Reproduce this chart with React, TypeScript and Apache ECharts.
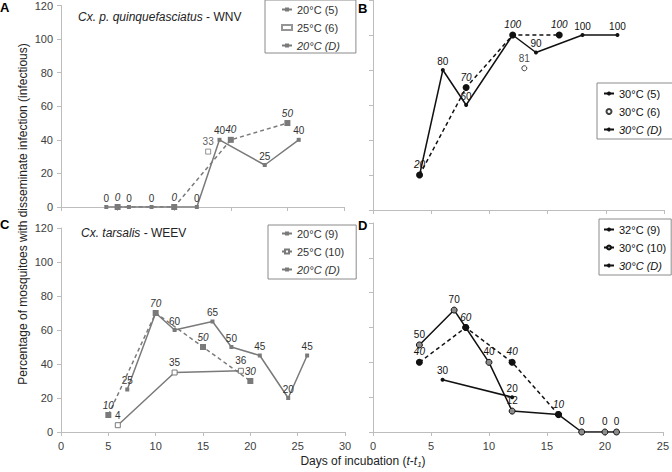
import React, { useEffect, useRef } from "react";
import * as echarts from "echarts";

// ---- data (day, percentage) ----
const aSolid20_5 = [[4, 0], [6, 0], [8, 0], [12, 0], [14, 40], [18, 25], [21, 40]];
const aOpen25_6 = [[13, 33]];
const aDash20_D = [[5, 0], [10, 0], [15, 40], [20, 50]];

const bSolid30_5 = [[4, 20], [6, 80], [8, 60], [12, 100], [14, 90], [18, 100], [21, 100]];
const bOpen30_6 = [[13, 81]];
const bDash30_D = [[4, 20], [8, 70], [12, 100], [16, 100]];

const cSolid20_9 = [[7, 25], [10, 70], [12, 60], [16, 65], [18, 50], [21, 45], [24, 20], [26, 45]];
const cOpen25_10 = [[6, 4], [12, 35], [19, 36]];
const cDash20_D = [[5, 10], [10, 70], [15, 50], [20, 30]];

const dSolid32_9 = [[6, 30], [12, 20]];
const dGray30_10 = [[4, 50], [7, 70], [8, 60], [10, 40], [12, 12], [16, 10], [18, 0], [20, 0], [21, 0]];
const dDash30_D = [[4, 40], [8, 60], [12, 40], [16, 10]];

const yTicks = [0, 20, 40, 60, 80, 100, 120];
const xMaxAB = 25;
const xMaxC = 30;
const xMaxD = 25;

const legendA = ["20°C (5)", "25°C (6)", "20°C (D)"];
const legendB = ["30°C (5)", "30°C (6)", "30°C (D)"];
const legendC = ["20°C (9)", "25°C (10)", "20°C (D)"];
const legendD = ["32°C (9)", "30°C (10)", "30°C (D)"];

const FONT = "'Liberation Sans', Arial, Helvetica, sans-serif";
const GRAY = "#7a7a7a";
const BLACK = "#111";

function buildData(points: number[][], hideWith: number[][] | null) {
  return points.map((p) => {
    const hidden = hideWith ? hideWith.some((q) => q[0] === p[0] && q[1] === p[1]) : false;
    return hidden ? { value: p, label: { show: false } } : { value: p };
  });
}

function label(italic: boolean, color: string) {
  return {
    show: true,
    position: "top",
    distance: 2,
    fontSize: 10,
    fontFamily: FONT,
    fontStyle: italic ? "italic" : "normal",
    color,
    formatter: (p: any) => String(p.value[1]),
  };
}

function axisX(grid: number, max: number, showLabel: boolean) {
  return {
    type: "value",
    gridIndex: grid,
    min: 0,
    max,
    interval: 5,
    axisLine: { show: true, lineStyle: { color: "#bdbdbd", width: 1 } },
    axisTick: { show: true, length: 4, lineStyle: { color: "#bdbdbd" } },
    axisLabel: { show: showLabel, fontSize: 11, color: "#404040", fontFamily: FONT, margin: 8 },
    splitLine: { show: false },
  };
}

function axisY(grid: number, showLabel: boolean) {
  return {
    type: "value",
    gridIndex: grid,
    min: yTicks[0],
    max: yTicks[yTicks.length - 1],
    interval: 20,
    axisLine: { show: true, lineStyle: { color: "#bdbdbd", width: 1 } },
    axisTick: { show: true, length: 4, lineStyle: { color: "#bdbdbd" } },
    axisLabel: { show: showLabel, fontSize: 11, color: "#404040", fontFamily: FONT, margin: 8 },
    splitLine: { show: false },
  };
}

function legend(names: string[], box: any, color: string) {
  return {
    orient: "vertical",
    ...box,
    backgroundColor: "#fff",
    borderColor: "#8a8a8a",
    borderWidth: 1,
    itemWidth: 10,
    itemHeight: 5,
    itemGap: 5,
    selectedMode: false,
    textStyle: { fontSize: 11, fontFamily: FONT, color, lineHeight: 13 },
    data: names.map((n, i) => (i === 2 ? { name: n, textStyle: { fontStyle: "italic" } } : { name: n })),
  };
}

export default function App() {
  const ref = useRef<HTMLDivElement>(null);
  useEffect(() => {
    document.body.style.margin = "0";
    const chart = echarts.init(ref.current!, null, { renderer: "svg" });

    const solid = (name: string, g: number, data: any[], color: string, sym: string, size: number, itemStyle: any, italic = false, dashed = false, lblColor = "#333") => ({
      type: "line",
      name,
      xAxisIndex: g,
      yAxisIndex: g,
      data,
      symbol: sym,
      symbolSize: size,
      showAllSymbol: true,
      lineStyle: { color, width: 1.5, type: dashed ? [4, 3] : "solid" },
      itemStyle,
      label: label(italic, lblColor),
      z: dashed ? 3 : 2,
    });

    const option: any = {
      animation: false,
      textStyle: { fontFamily: FONT },
      grid: [
        { left: 61, top: 4, width: 283, height: 203 },
        { left: 373, top: 0, width: 291, height: 210 },
        { left: 61, top: 228, width: 284, height: 204 },
        { left: 373, top: 223, width: 291, height: 209 },
      ],
      xAxis: [axisX(0, xMaxAB, false), axisX(1, xMaxAB, false), axisX(2, xMaxC, true), axisX(3, xMaxD, true)],
      yAxis: [axisY(0, true), axisY(1, false), axisY(2, true), axisY(3, false)],
      legend: [
        legend(legendA, { left: 265, top: 0, padding: [3, 16, 1, 16] }, "#333"),
        legend(legendB, { left: 597, top: 83, padding: [4, 11, 3, 6] }, "#111"),
        legend(legendC, { left: 268, top: 225, padding: [2, 12, 3, 13] }, "#333"),
        legend(legendD, { left: 599, top: 219, padding: [4, 5, 3, 4] }, "#111"),
      ],
      series: [
        // A
        solid(legendA[0], 0, buildData(aSolid20_5, aDash20_D), GRAY, "rect", 4, { color: GRAY }),
        {
          type: "scatter", name: legendA[1], xAxisIndex: 0, yAxisIndex: 0,
          data: buildData(aOpen25_6, null), symbol: "rect", symbolSize: 5,
          itemStyle: { color: "#fff", borderColor: GRAY, borderWidth: 1 }, label: label(false, "#333"),
        },
        solid(legendA[2], 0, buildData(aDash20_D, null), GRAY, "rect", 6, { color: GRAY }, true, true),
        // B
        solid(legendB[0], 1, buildData(bSolid30_5, bDash30_D), BLACK, "circle", 4, { color: BLACK }, false, false, "#111"),
        {
          type: "scatter", name: legendB[1], xAxisIndex: 1, yAxisIndex: 1,
          data: buildData(bOpen30_6, null), symbol: "circle", symbolSize: 5,
          itemStyle: { color: "#fff", borderColor: BLACK, borderWidth: 1 }, label: label(false, "#111"),
        },
        solid(legendB[2], 1, buildData(bDash30_D, null), BLACK, "circle", 7, { color: BLACK }, true, true, "#111"),
        // C
        solid(legendC[0], 2, buildData(cSolid20_9, cDash20_D), GRAY, "rect", 4, { color: GRAY }),
        solid(legendC[1], 2, buildData(cOpen25_10, null), GRAY, "rect", 5, { color: "#fff", borderColor: GRAY, borderWidth: 1 }),
        solid(legendC[2], 2, buildData(cDash20_D, null), GRAY, "rect", 6, { color: GRAY }, true, true),
        // D
        solid(legendD[0], 3, buildData(dSolid32_9, null), BLACK, "circle", 4, { color: BLACK }, false, false, "#111"),
        solid(legendD[1], 3, buildData(dGray30_10, dDash30_D), BLACK, "circle", 6, { color: "#8c8c8c", borderColor: BLACK, borderWidth: 1 }, false, false, "#111"),
        solid(legendD[2], 3, buildData(dDash30_D, null), BLACK, "circle", 7, { color: BLACK }, true, true, "#111"),
      ],
      graphic: [
        { type: "text", left: 0, top: 1, style: { text: "A", font: "bold 13px " + FONT, fill: "#000" } },
        { type: "text", left: 358, top: 2, style: { text: "B", font: "bold 13px " + FONT, fill: "#000" } },
        { type: "text", left: 0, top: 218, style: { text: "C", font: "bold 13px " + FONT, fill: "#000" } },
        { type: "text", left: 358, top: 219, style: { text: "D", font: "bold 13px " + FONT, fill: "#000" } },
        {
          type: "text", x: 78, y: 17,
          style: {
            text: "{i|Cx. p. quinquefasciatus} - WNV",
            rich: { i: { fontStyle: "italic", fontSize: 12, fontFamily: FONT, fill: "#222" } },
            font: "12px " + FONT, fill: "#222", textVerticalAlign: "middle",
          },
        },
        {
          type: "text", x: 81, y: 233,
          style: {
            text: "{i|Cx. tarsalis} - WEEV",
            rich: { i: { fontStyle: "italic", fontSize: 12, fontFamily: FONT, fill: "#222" } },
            font: "12px " + FONT, fill: "#222", textVerticalAlign: "middle",
          },
        },
        {
          type: "text", x: 23, y: 214, rotation: Math.PI / 2,
          style: {
            text: "Percentage of mosquitoes with disseminate infection (infectious)",
            font: "12px " + FONT, fill: "#222", textAlign: "center", textVerticalAlign: "middle",
          },
        },
        {
          type: "text", x: 363, y: 461,
          style: {
            text: "Days of incubation ({i|t}-{i|t}{s|1})",
            rich: {
              i: { fontStyle: "italic", fontSize: 12, fontFamily: FONT, fill: "#222" },
              s: { fontStyle: "italic", fontSize: 8, fontFamily: FONT, fill: "#222", padding: [7, 0, 0, 0] },
            },
            font: "12px " + FONT, fill: "#222", textAlign: "center", textVerticalAlign: "middle",
          },
        },
      ],
    };
    chart.setOption(option);
    return () => chart.dispose();
  }, []);
  return <div ref={ref} style={{ position: "absolute", left: 0, top: 0, width: 672, height: 472 }} />;
}
